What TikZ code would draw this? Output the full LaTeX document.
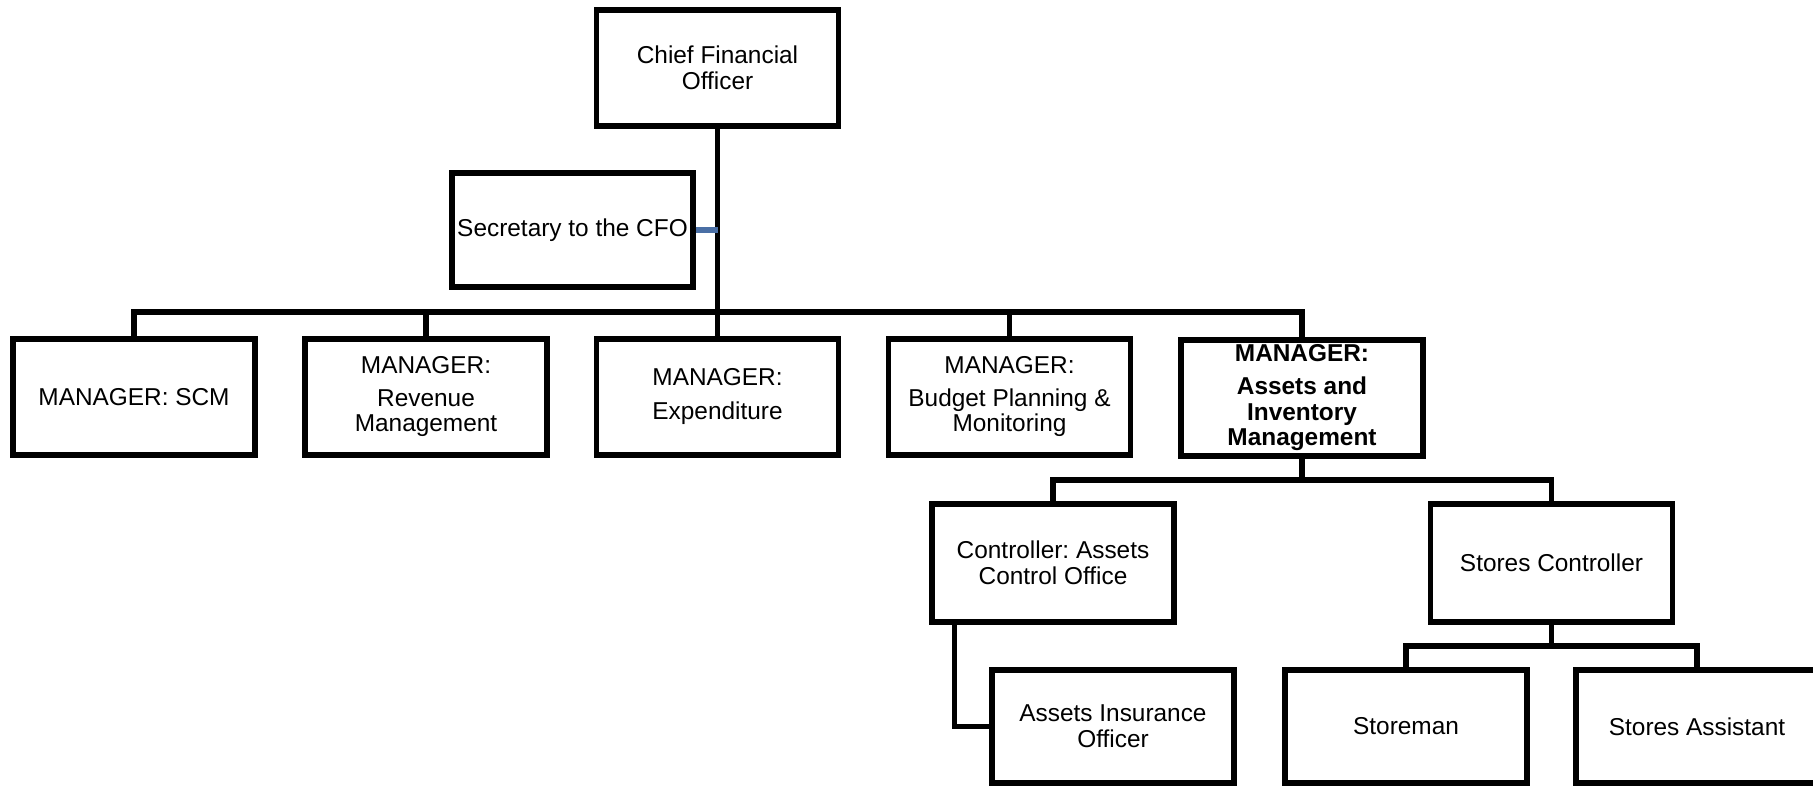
\documentclass[tikz,border=0pt]{standalone}
\usepackage{fontspec}
\setmainfont{Liberation Sans}
\frenchspacing
\definecolor{linkblue}{RGB}{74,111,165}
\begin{document}
\begin{tikzpicture}[x=0.5pt,y=-0.5pt,
  box/.style={draw=black, line width=2.7pt, fill=white, rectangle, inner sep=0pt,
    minimum width=121pt, minimum height=58pt, align=center,
    font=\fontsize{12.2}{13}\selectfont},
  conn/.style={draw=black, line width=2.7pt},
  blueconn/.style={draw=linkblue, line width=2.8pt}]
\fill[white] (0,0) rectangle (1813,786);
\useasboundingbox (0,0) rectangle (1813,786);

% nodes
\node[box] (cfo) at (717.5,68) {Chief Financial\\Officer};
\node[box, minimum width=120.5pt, minimum height=57pt] (sec) at (572.5,230) {Secretary to the CFO};

\node[box] (m1) at (134,397) {MANAGER: SCM};
\node[box] (m2) at (426,397) {MANAGER:\\[3.5pt]Revenue\\[-0.5pt]Management};
\node[box] (m3) at (717.5,397) {MANAGER:\\[4pt]Expenditure};
\node[box] (m4) at (1009.5,397) {MANAGER:\\[3.5pt]Budget Planning \&\\[-0.5pt]Monitoring};
\node[box, font=\fontsize{12.2}{13}\selectfont\bfseries] (m5) at (1302,398) {MANAGER:\\[3.5pt]Assets and\\Inventory\\[-0.5pt]Management};

\node[box, minimum height=59pt] (ctrl) at (1053,563) {Controller: Assets\\Control Office};
\node[box, minimum height=59pt] (sc) at (1551.5,563) {Stores Controller};

\node[box, minimum height=56.5pt] (aio) at (1113,726.5) {Assets Insurance\\Officer};
\node[box, minimum height=56.5pt] (sm) at (1406,726.5) {Storeman};
\node[box, minimum height=56.5pt] (sa) at (1697,726.5) {Stores Assistant};

% bus points
\coordinate (bus) at (717.5,312);
\coordinate (bus2) at (1302,480);
\coordinate (bus3) at (1551.5,646);

% connectors
\draw[conn] (cfo.south) -- (m3.north);
\draw[conn] (m1.north) |- (bus) -| (m5.north);
\draw[conn] (m2.north) -- (m2.north |- bus);
\draw[conn] (m4.north) -- (m4.north |- bus);
\draw[blueconn] (sec.east) -- (sec.east -| cfo.south);

\draw[conn] (m5.south) -- (bus2);
\draw[conn] (ctrl.north) |- (bus2) -| (sc.north);

\draw[conn] ([xshift=12.5pt]ctrl.south west) |- (aio.west);

\draw[conn] (sc.south) -- (bus3);
\draw[conn] (sm.north) |- (bus3) -| (sa.north);
\end{tikzpicture}
\end{document}
